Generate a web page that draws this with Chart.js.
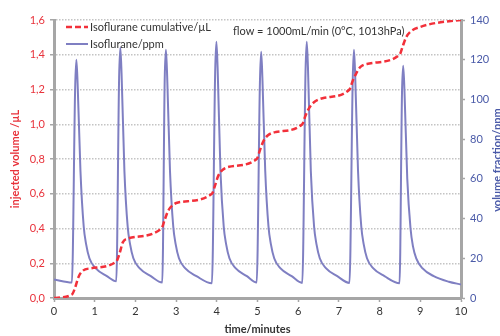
<!DOCTYPE html>
<html>
<head>
<meta charset="utf-8">
<script src="https://cdn.jsdelivr.net/npm/chart.js@4/dist/chart.umd.min.js"></script>
<style>
  html, body { margin: 0; padding: 0; background: #fff; }
  #wrap { width: 500px; height: 336px; }
</style>
</head>
<body>
<div id="wrap"><canvas id="c" width="500" height="336"></canvas></div>
<script>
"use strict";

const COLORS = {
  cum: "#f2303a",
  ppm: "#7f7fc2",
  leftText: "#e8333c",
  rightText: "#4a5aa8",
  axis: "#a6a6a6",
  grid: "#c4c4c4",
  text: "#333333",
};
const FONT = "Lato, 'Open Sans', sans-serif";

// time axis ticks (minutes)
const xTicks = [0, 1, 2, 3, 4, 5, 6, 7, 8, 9, 10];

// Isoflurane/ppm
const ppmTimes = [
  0, 0.44, 0.52, 0.55, 0.58, 0.65, 0.73, 0.79, 0.87, 1.02, 1.30,
  1.53, 1.60, 1.63, 1.66, 1.73, 1.81, 1.87, 1.95, 2.10, 2.38,
  2.66, 2.72, 2.75, 2.78, 2.85, 2.93, 2.99, 3.07, 3.22, 3.50,
  3.88, 3.96, 3.99, 4.02, 4.09, 4.17, 4.23, 4.31, 4.46, 4.74,
  4.98, 5.06, 5.09, 5.12, 5.19, 5.27, 5.33, 5.41, 5.56, 5.84,
  6.10, 6.18, 6.21, 6.24, 6.31, 6.39, 6.45, 6.53, 6.68, 6.96,
  7.26, 7.34, 7.37, 7.40, 7.47, 7.55, 7.61, 7.69, 7.84, 8.12,
  8.49, 8.55, 8.58, 8.61, 8.68, 8.76, 8.82, 8.90, 9.05, 9.33, 9.70, 10,
];
const ppmValues = [
  9.3, 7.8, 106, 120, 108, 64, 36, 27, 20, 15, 11,
  8.4, 111, 126, 113, 64, 36, 27, 20, 15, 11,
  7.8, 110, 125, 112, 64, 36, 27, 20, 15, 11,
  7.4, 114, 129, 116, 64, 36, 27, 20, 15, 11,
  7.8, 109, 124, 111, 64, 36, 27, 20, 15, 11,
  7.6, 114, 129, 116, 64, 36, 27, 20, 15, 11,
  7.6, 110, 125, 112, 64, 36, 27, 20, 15, 11,
  7.4, 103, 117, 105, 60, 35, 26, 20, 15, 11, 8.2, 6.8,
];

// Isoflurane cumulative/µL
const cumTimes = [
  0, 0.44, 0.52, 0.60, 0.70, 0.87,
  1.53, 1.61, 1.69, 1.81,
  2.64, 2.72, 2.80, 2.92, 3.05,
  3.88, 3.96, 4.03, 4.13, 4.30,
  4.98, 5.06, 5.14, 5.25, 5.45,
  6.10, 6.18, 6.26, 6.38, 6.60,
  7.26, 7.34, 7.42, 7.53, 7.75,
  8.49, 8.57, 8.65, 8.78, 9.00, 9.22, 9.50, 10,
];
const cumValues = [
  0.00, 0.02, 0.06, 0.12, 0.155, 0.17,
  0.21, 0.256, 0.32, 0.342,
  0.40, 0.45, 0.50, 0.535, 0.55,
  0.60, 0.65, 0.70, 0.735, 0.755,
  0.80, 0.85, 0.90, 0.935, 0.955,
  1.00, 1.05, 1.09, 1.125, 1.15,
  1.20, 1.25, 1.29, 1.33, 1.35,
  1.40, 1.45, 1.50, 1.537, 1.56, 1.575, 1.587, 1.60,
];

const pts = (xs, ys) => xs.map((x, i) => ({ x, y: ys[i] }));

// legend, flow note and right-hand axis title (reads bottom-to-top)
const overlay = {
  id: "overlay",
  afterDraw(chart) {
    const ctx = chart.ctx;
    ctx.save();
    ctx.font = `11px ${FONT}`;
    ctx.textBaseline = "middle";
    ctx.fillStyle = COLORS.text;

    ctx.strokeStyle = COLORS.cum;
    ctx.lineWidth = 2.5;
    ctx.setLineDash([6, 3]);
    ctx.beginPath(); ctx.moveTo(66, 27); ctx.lineTo(88, 27); ctx.stroke();
    ctx.setLineDash([]);
    ctx.fillText("Isoflurane cumulative/µL", 90, 27);

    ctx.strokeStyle = COLORS.ppm;
    ctx.lineWidth = 2;
    ctx.beginPath(); ctx.moveTo(66, 44); ctx.lineTo(88, 44); ctx.stroke();
    ctx.fillText("Isoflurane/ppm", 90, 44);

    ctx.fillText("flow = 1000mL/min (0°C, 1013hPa)", 233, 31);

    ctx.translate(497, 160);
    ctx.rotate(-Math.PI / 2);
    ctx.textAlign = "center";
    ctx.font = `bold 11px ${FONT}`;
    ctx.fillStyle = COLORS.rightText;
    ctx.fillText("volume fraction/ppm", 0, 0);
    ctx.restore();
  },
};

new Chart(document.getElementById("c"), {
  type: "line",
  data: {
    datasets: [
      {
        label: "Isoflurane cumulative/µL",
        data: pts(cumTimes, cumValues),
        yAxisID: "y",
        borderColor: COLORS.cum,
        borderWidth: 2.5,
        borderDash: [6, 3],
        pointRadius: 0,
        cubicInterpolationMode: "monotone",
        order: 0,
      },
      {
        label: "Isoflurane/ppm",
        data: pts(ppmTimes, ppmValues),
        yAxisID: "y2",
        borderColor: COLORS.ppm,
        borderWidth: 2,
        pointRadius: 0,
        cubicInterpolationMode: "monotone",
        order: 1,
      },
    ],
  },
  options: {
    responsive: false,
    animation: false,
    layout: { padding: { top: 20, left: 0, right: 0, bottom: 0 } },
    plugins: { legend: { display: false }, tooltip: { enabled: false } },
    scales: {
      x: {
        type: "linear",
        min: 0,
        max: 10,
        afterBuildTicks: (s) => { s.ticks = xTicks.map((v) => ({ value: v })); },
        afterFit: (s) => { s.height = 38; },
        grid: { drawOnChartArea: false, drawTicks: true, tickLength: 4, tickColor: COLORS.axis, tickWidth: 1.5 },
        border: { color: COLORS.axis, width: 3 },
        ticks: { color: COLORS.text, font: { family: FONT, size: 11 }, padding: 3 },
        title: {
          display: true,
          text: "time/minutes",
          color: COLORS.text,
          font: { family: FONT, size: 11, weight: "bold" },
          padding: { top: 0, bottom: 0 },
        },
      },
      y: {
        position: "left",
        min: 0,
        max: 1.6,
        afterFit: (s) => { s.width = 54; },
        grid: { color: COLORS.grid, lineWidth: 1.5, tickLength: 4, tickColor: COLORS.axis, tickBorderDash: [], tickWidth: 1.5 },
        border: { color: COLORS.axis, width: 3, dash: [1.5, 1.5] },
        ticks: {
          stepSize: 0.2,
          color: COLORS.leftText,
          font: { family: FONT, size: 11 },
          padding: 5,
          callback: (v) => v.toFixed(1).replace(".", ","),
        },
        title: {
          display: true,
          text: "injected volume /µL",
          color: COLORS.leftText,
          font: { family: FONT, size: 11, weight: "bold" },
          padding: { top: 9, bottom: 0 },
        },
      },
      y2: {
        position: "right",
        min: 0,
        max: 140,
        afterFit: (s) => { s.width = 39; },
        grid: { drawOnChartArea: false, tickLength: 4, tickColor: COLORS.axis, tickWidth: 1.5 },
        border: { color: COLORS.axis, width: 3 },
        ticks: { stepSize: 20, color: COLORS.rightText, font: { family: FONT, size: 11 }, padding: 5 },
      },
    },
  },
  plugins: [overlay],
});
</script>
</body>
</html>
